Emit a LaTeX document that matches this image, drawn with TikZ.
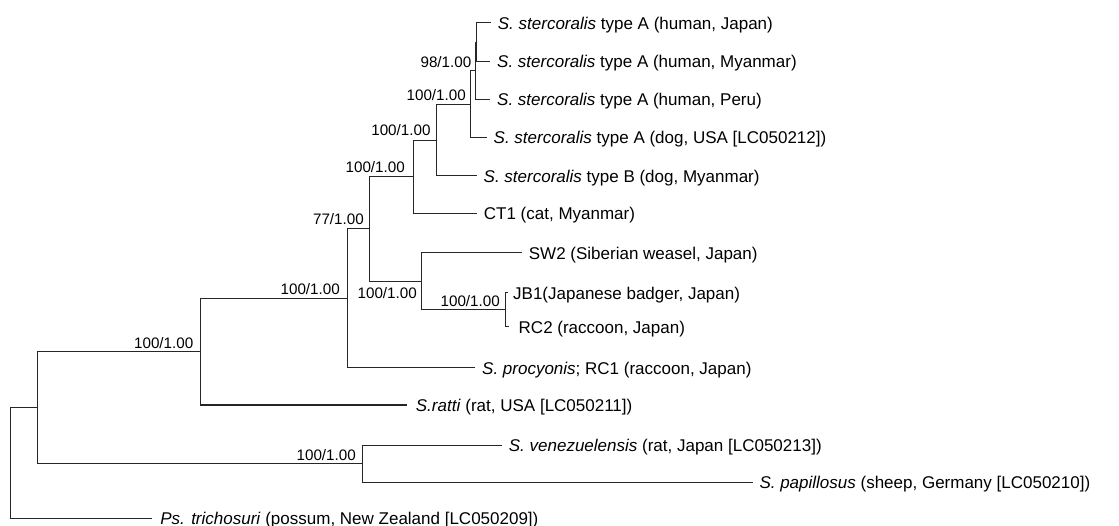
\documentclass[tikz,border=0pt]{standalone}
\usepackage{fontspec}
\setmainfont{Liberation Sans}
\begin{document}
\begin{tikzpicture}[x=1pt,y=-1pt,
  branch/.style={draw=black!85,line width=1pt},
  leaf/.style={anchor=west,inner xsep=7pt,inner ysep=0pt,font=\fontsize{17}{20}\selectfont,text height=12.2pt,text depth=0pt},
  supp/.style={anchor=east,inner sep=0pt,font=\fontsize{15.2}{18}\selectfont,text height=10.9pt,text depth=0pt}]
\useasboundingbox (0,0) rectangle (1119,526);
% internal nodes
\coordinate (n98) at (476.5,42.3);
\coordinate (nA) at (475.5,71);
\coordinate (nB) at (470,104.3);
\coordinate (nC) at (436,140.2);
\coordinate (nD) at (413.3,176.8);
\coordinate (nE) at (369.5,228.5);
\coordinate (nF) at (421.7,281.5);
\coordinate (nG) at (505.7,310);
\coordinate (nH) at (347.3,298.3);
\coordinate (nI) at (200,351.6);
\coordinate (nJ) at (362.7,463.4);
\coordinate (nK) at (37.7,407.5);
\coordinate (root) at (10,463);
% leaves
\node[leaf] (japan) at (490.7,23) {\textit{S. stercoralis} type A (human, Japan)};
\node[leaf] (myan) at (490,61.7) {\textit{S. stercoralis} type A (human, Myanmar)};
\node[leaf] (peru) at (490,99.5) {\textit{S. stercoralis} type A (human, Peru)};
\node[leaf] (dogusa) at (486.5,137.5) {\textit{S. stercoralis} type A (dog, USA [LC050212])};
\node[leaf] (typeb) at (476.5,176) {\textit{S. stercoralis} type B (dog, Myanmar)};
\node[leaf] (ct1) at (476.7,213.3) {CT1 (cat, Myanmar)};
\node[leaf] (sw2) at (521.7,253) {SW2 (Siberian weasel, Japan)};
\node[leaf,inner xsep=5pt] (jb1) at (508,293) {JB1(Japanese badger, Japan)};
\node[leaf,inner xsep=10pt] (rc2) at (508.5,327) {RC2 (raccoon, Japan)};
\node[leaf] (proc) at (475,368) {\textit{S. procyonis}; RC1 (raccoon, Japan)};
\node[leaf,inner xsep=9pt] (ratti) at (406.7,405) {\textit{S.ratti} (rat, USA [LC050211])};
\node[leaf] (venez) at (501.7,445) {\textit{S. venezuelensis} (rat, Japan [LC050213])};
\node[leaf,inner xsep=6pt] (papil) at (753.3,482) {\textit{S. papillosus} (sheep, Germany [LC050210])};
\node[leaf,inner xsep=8.5pt] (trich) at (151.7,518.5) {\textit{Ps. trichosuri} (possum, New Zealand [LC050209])};
% branches
\draw[branch] (n98) |- (japan.west);
\draw[branch] (n98) |- (myan.west);
\draw[branch] (nA) |- (n98);
\draw[branch] (nA) |- (peru.west);
\draw[branch] (nB) |- (nA);
\draw[branch] (nB) |- (dogusa.west);
\draw[branch] (nC) |- (nB);
\draw[branch] (nC) |- (typeb.west);
\draw[branch] (nD) |- (nC);
\draw[branch] (nD) |- (ct1.west);
\draw[branch] (nE) |- (nD);
\draw[branch] (nE) |- (nF);
\draw[branch] (nF) |- (sw2.west);
\draw[branch] (nF) |- (nG);
\draw[branch] (nG) |- (jb1.west);
\draw[branch] (nG) |- (rc2.west);
\draw[branch] (nH) |- (nE);
\draw[branch] (nH) |- (proc.west);
\draw[branch] (nI) |- (nH);
\draw[branch] (nI) |- (ratti.west);
\draw[branch] (nJ) |- (venez.west);
\draw[branch] (nJ) |- (papil.west);
\draw[branch] (nK) |- (nI);
\draw[branch] (nK) |- (nJ);
\draw[branch] (root) |- (nK);
\draw[branch] (root) |- (trich.west);
% support values
\node[supp] (s98) at (471.5,62) {98/1.00};
\node[supp] (sB) at (466,95) {100/1.00};
\node[supp] (sC) at (430.7,130) {100/1.00};
\node[supp] (sD) at (405,167.3) {100/1.00};
\node[supp] (sE) at (364,219) {77/1.00};
\node[supp] (sF) at (417,293) {100/1.00};
\node[supp] (sG) at (500,301) {100/1.00};
\node[supp] (sH) at (340,289) {100/1.00};
\node[supp] (sI) at (193.5,342.7) {100/1.00};
\node[supp] (sJ) at (356,455.3) {100/1.00};
\end{tikzpicture}
\end{document}
